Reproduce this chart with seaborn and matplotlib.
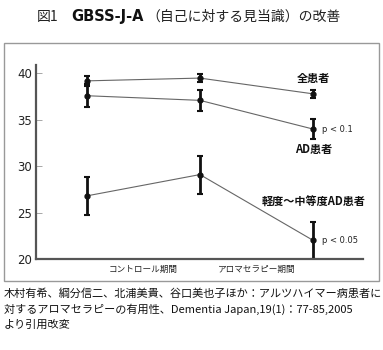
import matplotlib
matplotlib.use("Agg")
import matplotlib.pyplot as plt
import seaborn as sns
import pandas as pd
from matplotlib.patches import Rectangle

sns.set_theme(style="white")
plt.rcParams['font.family'] = ['Noto Sans CJK JP', 'DejaVu Sans']

phases = [0, 1, 2]
period_labels = ["コントロール期間", "アロマセラピー期間"]
groups = ["全患者", "AD患者", "軽度〜中等度AD患者"]
all_mean = [39.2, 39.5, 37.8]
all_err = [0.5, 0.45, 0.4]
ad_mean = [37.6, 37.1, 34.0]
ad_err = [1.25, 1.1, 1.1]
mild_mean = [26.8, 29.1, 22.0]
mild_err = [2.05, 2.05, 2.0]
yticks = [20, 25, 30, 35, 40]

means = [all_mean, ad_mean, mild_mean]
errs = [all_err, ad_err, mild_err]
df = pd.DataFrame({
    "phase": phases * 3,
    "score": all_mean + ad_mean + mild_mean,
    "err": all_err + ad_err + mild_err,
    "group": [g for g in groups for _ in phases],
})

fig = plt.figure(figsize=(3.83, 3.5), dpi=100)
ax = fig.add_axes([0.094, 0.26, 0.854, 0.554])

sns.lineplot(data=df, x="phase", y="score", hue="group", units="group",
             estimator=None, palette=["#666666"] * 3, linewidth=0.8,
             legend=False, ax=ax)
for m, e in zip(means, errs):
    ax.errorbar(phases, m, yerr=e, fmt="o", color="#111111", ms=3.5,
                elinewidth=2, capsize=2.5, capthick=1.5, zorder=3)

ax.set_xlim(-0.447, 2.44)
ax.set_ylim(20, 40.9)
ax.set_yticks(yticks)
ax.set_yticklabels([str(t) for t in yticks], fontsize=8.5, color="#222222",
                   family="DejaVu Sans")
ax.set_xticks([0.5, 1.5])
ax.set_xticklabels(period_labels, fontsize=6.2, color="#222222")
ax.tick_params(axis="y", direction="in", length=4, width=0.6, color="#999999",
               pad=3, left=True)
ax.tick_params(axis="x", length=0, pad=4)
ax.set_xlabel("")
ax.set_ylabel("")
for s in ["top", "right"]:
    ax.spines[s].set_visible(False)
for s in ["left", "bottom"]:
    ax.spines[s].set_color("#555555")
    ax.spines[s].set_linewidth(1.6)
    ax.spines[s].set_zorder(5)

ax.text(2, 39.5, groups[0], ha="center", va="center", fontsize=8,
        color="#111111", fontweight="bold")
ax.text(2, 31.8, groups[1], ha="center", va="center", fontsize=8,
        color="#111111", fontweight="bold")
ax.text(2, 26.1, groups[2], ha="center", va="center", fontsize=8,
        color="#111111", fontweight="bold")
ax.text(2.08, 34.0, "p < 0.1", ha="left", va="center", fontsize=6,
        color="#222222", family="DejaVu Sans")
ax.text(2.08, 22.0, "p < 0.05", ha="left", va="center", fontsize=6,
        color="#222222", family="DejaVu Sans")

# frame around the chart
fig.patches.append(Rectangle((4 / 383, 1 - 281 / 350), 375 / 383, 238 / 350,
                             transform=fig.transFigure, fill=False,
                             edgecolor="#999999", linewidth=1.0))

fig.text(37 / 383, 1 - 17 / 350, "図1", fontsize=10, va="center", ha="left",
         color="#222222")
fig.text(71 / 383, 1 - 17 / 350, "GBSS-J-A", fontsize=10.5, va="center",
         ha="left", color="#111111", fontweight="bold", family="DejaVu Sans")
fig.text(146 / 383, 1 - 17 / 350, "（自己に対する見当識）の改善", fontsize=10,
         va="center", ha="left", color="#222222")

caption = ["木村有希、綱分信二、北浦美貴、谷口美也子ほか：アルツハイマー病患者に",
           "対するアロマセラピーの有用性、Dementia Japan,19(1)：77-85,2005",
           "より引用改変"]
for i, line in enumerate(caption):
    fig.text(4 / 383, 1 - (294 + 15.5 * i) / 350, line, fontsize=8,
             va="center", ha="left", color="#111111")

fig.savefig("out.png", dpi=100)
